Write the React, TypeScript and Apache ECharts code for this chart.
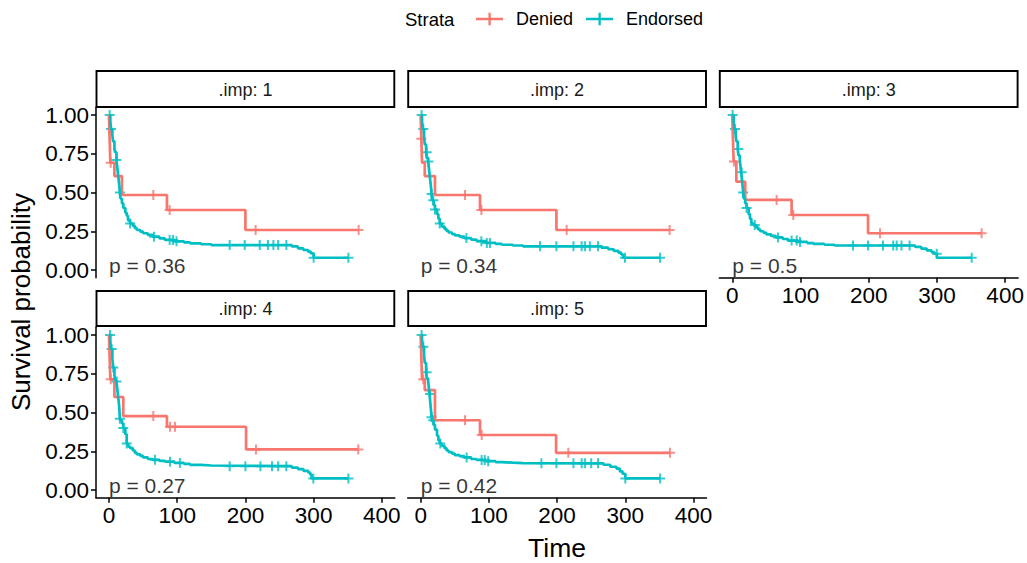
import React, { useEffect, useRef } from "react";
import * as echarts from "echarts";

// ---------- data ----------
const panelLabels = [".imp: 1", ".imp: 2", ".imp: 3", ".imp: 4", ".imp: 5"];
const pValueLabels = ["p = 0.36", "p = 0.34", "p = 0.5", "p = 0.27", "p = 0.42"];
const strataNames = ["Denied", "Endorsed"];
const xTicks = [0, 100, 200, 300, 400];
const yTicks = [0, 0.25, 0.5, 0.75, 1];

// imp 1
const denied1Time = [0, 1, 2, 8, 19, 85, 200];
const denied1Surv = [1, 0.846, 0.692, 0.606, 0.484, 0.387, 0.258];
const denied1Censor = [2.5, 65, 89, 215, 366];
const endorsed1Time = [0, 2, 3, 5, 6, 8, 9, 11, 12, 13, 14, 15, 16, 17, 19, 21, 24, 26, 28, 31, 35, 38, 41, 46, 50, 57, 64, 74, 82, 96, 110, 119, 135, 150, 268, 277, 285, 292, 296, 300];
const endorsed1Surv = [1, 0.96, 0.91, 0.87, 0.83, 0.78, 0.76, 0.71, 0.67, 0.63, 0.59, 0.55, 0.5, 0.46, 0.43, 0.4, 0.37, 0.35, 0.32, 0.3, 0.285, 0.27, 0.258, 0.248, 0.237, 0.226, 0.215, 0.204, 0.194, 0.185, 0.178, 0.172, 0.166, 0.161, 0.152, 0.14, 0.129, 0.118, 0.107, 0.079];
const endorsed1Censor = [1, 3, 11, 16, 31, 66, 89, 94, 99, 177, 199, 221, 233, 241, 248, 260, 300, 351];

// imp 2
const denied2Time = [0, 1, 2, 6, 21, 87, 199];
const denied2Surv = [1, 0.846, 0.692, 0.606, 0.484, 0.387, 0.258];
const denied2Censor = [1, 65, 89, 214, 365];
const endorsed2Time = [0, 2, 3, 5, 6, 8, 9, 11, 12, 13, 14, 15, 16, 17, 19, 21, 24, 26, 28, 31, 35, 38, 41, 46, 50, 57, 64, 74, 82, 96, 110, 119, 135, 150, 265, 275, 283, 290, 294, 297];
const endorsed2Surv = [1, 0.96, 0.91, 0.86, 0.81, 0.76, 0.72, 0.7, 0.66, 0.62, 0.58, 0.54, 0.49, 0.45, 0.42, 0.39, 0.36, 0.33, 0.3, 0.28, 0.265, 0.252, 0.242, 0.232, 0.224, 0.215, 0.206, 0.196, 0.186, 0.175, 0.168, 0.163, 0.158, 0.153, 0.144, 0.134, 0.123, 0.112, 0.1, 0.079];
const endorsed2Censor = [1.4, 3.9, 8.8, 11.2, 16, 18.5, 21, 28, 67, 89, 97, 101.6, 175, 199, 224, 236, 241, 248, 260, 299.5, 351];

// imp 3
const denied3Time = [0, 1, 2, 6, 19, 87, 199];
const denied3Surv = [1, 0.846, 0.7, 0.57, 0.452, 0.355, 0.237];
const denied3Censor = [2.5, 65, 89.5, 216.6, 365.6];
const endorsed3Time = [0, 2, 3, 5, 6, 8, 9, 11, 12, 13, 14, 15, 16, 17, 19, 21, 24, 26, 28, 31, 35, 38, 41, 46, 50, 57, 64, 74, 82, 96, 110, 119, 135, 150, 268, 277, 285, 292, 296, 300];
const endorsed3Surv = [1, 0.96, 0.91, 0.87, 0.83, 0.78, 0.74, 0.71, 0.67, 0.63, 0.59, 0.55, 0.5, 0.46, 0.43, 0.4, 0.36, 0.33, 0.3, 0.29, 0.275, 0.262, 0.25, 0.24, 0.23, 0.22, 0.21, 0.2, 0.19, 0.181, 0.174, 0.168, 0.163, 0.158, 0.149, 0.138, 0.127, 0.116, 0.105, 0.079];
const endorsed3Censor = [0.5, 3.9, 8.8, 13.7, 16, 21, 33, 67, 87, 94.5, 99.3, 177, 199, 221, 236, 241, 248, 260, 299.7, 351];

// imp 4
const denied4Time = [0, 1, 2, 8, 21, 85, 201];
const denied4Surv = [1, 0.857, 0.714, 0.6, 0.477, 0.408, 0.262];
const denied4Censor = [2.5, 65, 89.4, 96.8, 215.5, 365.5];
const endorsed4Time = [0, 2, 3, 5, 6, 8, 9, 11, 12, 13, 14, 15, 16, 17, 19, 21, 24, 26, 28, 31, 35, 38, 41, 46, 50, 57, 64, 74, 82, 96, 110, 119, 135, 150, 268, 277, 285, 292, 295, 297];
const endorsed4Surv = [1, 0.96, 0.91, 0.85, 0.79, 0.74, 0.71, 0.7, 0.66, 0.62, 0.58, 0.54, 0.46, 0.45, 0.43, 0.4, 0.36, 0.3, 0.28, 0.27, 0.255, 0.24, 0.23, 0.22, 0.21, 0.2, 0.195, 0.188, 0.183, 0.175, 0.168, 0.162, 0.158, 0.154, 0.145, 0.135, 0.124, 0.113, 0.1, 0.075];
const endorsed4Censor = [1.5, 3.9, 6.3, 11.2, 16, 21, 26, 67.4, 89.4, 104, 177, 200, 222, 239, 248, 260, 299.6, 351];

// imp 5
const denied5Time = [0, 1, 2, 6, 21, 87, 198.5];
const denied5Surv = [1, 0.857, 0.714, 0.645, 0.45, 0.355, 0.24];
const denied5Censor = [3.8, 65, 89.5, 216.4, 365.5];
const endorsed5Time = [0, 2, 3, 5, 6, 8, 9, 11, 12, 13, 14, 15, 16, 17, 19, 21, 24, 26, 28, 31, 35, 38, 41, 46, 50, 57, 64, 74, 82, 96, 110, 119, 135, 150, 268, 278, 287, 292, 296, 300];
const endorsed5Surv = [1, 0.97, 0.925, 0.87, 0.82, 0.76, 0.72, 0.7, 0.66, 0.62, 0.57, 0.52, 0.47, 0.45, 0.42, 0.39, 0.35, 0.32, 0.3, 0.285, 0.27, 0.255, 0.245, 0.235, 0.225, 0.218, 0.21, 0.2, 0.194, 0.186, 0.18, 0.176, 0.174, 0.172, 0.163, 0.15, 0.138, 0.12, 0.105, 0.075];
const endorsed5Censor = [1.4, 3.9, 8.8, 13.7, 16, 18.5, 28.8, 67.4, 89.4, 94, 99, 177, 199, 224, 236, 241, 250, 260, 300, 351];

// ---------- styling ----------
const RED = "#F8766D";
const TEAL = "#00BFC4";
const FONT = "'Liberation Sans', Arial, Helvetica, sans-serif";
const PLUS = "path://M0,4h10v2h-10z M4,0h2v10h-2z";
const LEGEND_ICON = "path://M0,5.3h28v2.6h-28z M12.9,0h2.4v13.2h-2.4z";

const COL_LEFT = [96, 407.7, 719.3];
const COL_WIDTH = 298.8;
const ROW_TOP = [107.25, 327.25];
const ROW_HEIGHT = 170.5;
const STRIP_TOP = [71, 291];
const STRIP_H = [36, 35];

type Panel = {
  dT: number[]; dS: number[]; dC: number[];
  eT: number[]; eS: number[]; eC: number[];
};

const panels: Panel[] = [
  { dT: denied1Time, dS: denied1Surv, dC: denied1Censor, eT: endorsed1Time, eS: endorsed1Surv, eC: endorsed1Censor },
  { dT: denied2Time, dS: denied2Surv, dC: denied2Censor, eT: endorsed2Time, eS: endorsed2Surv, eC: endorsed2Censor },
  { dT: denied3Time, dS: denied3Surv, dC: denied3Censor, eT: endorsed3Time, eS: endorsed3Surv, eC: endorsed3Censor },
  { dT: denied4Time, dS: denied4Surv, dC: denied4Censor, eT: endorsed4Time, eS: endorsed4Surv, eC: endorsed4Censor },
  { dT: denied5Time, dS: denied5Surv, dC: denied5Censor, eT: endorsed5Time, eS: endorsed5Surv, eC: endorsed5Censor },
];

function stepPoints(times: number[], surv: number[], censors: number[]) {
  const pts = times.map((t, i) => [t, surv[i]]);
  const lastC = Math.max(...censors);
  if (lastC > times[times.length - 1]) pts.push([lastC, surv[surv.length - 1]]);
  return pts;
}

function survAt(times: number[], surv: number[], t: number) {
  let s = surv[0];
  for (let i = 0; i < times.length; i++) {
    if (times[i] <= t) s = surv[i];
  }
  return s;
}

function buildOption() {
  const grids: any[] = [];
  const xAxes: any[] = [];
  const yAxes: any[] = [];
  const series: any[] = [];
  const graphics: any[] = [];

  panels.forEach((p, i) => {
    const row = i < 3 ? 0 : 1;
    const col = i % 3;
    const showX = i >= 2;
    const showY = col === 0;
    grids.push({ left: COL_LEFT[col], top: ROW_TOP[row], width: COL_WIDTH, height: ROW_HEIGHT, containLabel: false });
    xAxes.push({
      gridIndex: i, type: "value", min: -19, max: 419,
      axisLine: { show: showX, onZero: false, lineStyle: { color: "#000", width: 1.5 } },
      axisTick: { show: showX, length: 5, customValues: xTicks, lineStyle: { color: "#000", width: 1.5 } },
      axisLabel: { show: showX, customValues: xTicks, fontSize: 22.5, color: "#000", margin: 6, fontFamily: FONT },
      splitLine: { show: false },
    });
    yAxes.push({
      gridIndex: i, type: "value", min: -0.05, max: 1.05,
      axisLine: { show: showY, onZero: false, lineStyle: { color: "#000", width: 1.5 } },
      axisTick: { show: showY, length: 5, customValues: yTicks, lineStyle: { color: "#000", width: 1.5 } },
      axisLabel: { show: showY, customValues: yTicks, fontSize: 22.5, color: "#000", margin: 7, fontFamily: FONT, formatter: (v: number) => v.toFixed(2) },
      splitLine: { show: false },
    });

    const groups = [
      { name: strataNames[0], color: RED, t: p.dT, s: p.dS, c: p.dC },
      { name: strataNames[1], color: TEAL, t: p.eT, s: p.eS, c: p.eC },
    ];
    groups.forEach((g) => {
      series.push({
        type: "line", name: g.name, xAxisIndex: i, yAxisIndex: i, step: "end",
        data: stepPoints(g.t, g.s, g.c), showSymbol: false, symbol: "none",
        color: g.color, lineStyle: { color: g.color, width: 2.7 }, silent: true,
      });
    });
    groups.forEach((g) => {
      series.push({
        type: "scatter", name: g.name, xAxisIndex: i, yAxisIndex: i,
        data: g.c.map((t) => [t, survAt(g.t, g.s, t)]),
        symbol: PLUS, symbolSize: 10, color: g.color, itemStyle: { color: g.color }, silent: true,
      });
    });
    series.push({
      type: "scatter", name: "pval" + i, xAxisIndex: i, yAxisIndex: i,
      data: [[0, 0.03]], symbol: "circle", symbolSize: 0.1,
      itemStyle: { color: "rgba(0,0,0,0)" }, silent: true,
      label: { show: true, position: "right", distance: 0, formatter: pValueLabels[i], fontSize: 21, color: "#000", fontFamily: FONT },
    });

    // strip
    graphics.push({
      type: "rect", silent: true,
      shape: { x: COL_LEFT[col] + 0.5, y: STRIP_TOP[row], width: COL_WIDTH - 1, height: STRIP_H[row] },
      style: { fill: "#fff", stroke: "#000", lineWidth: 1.9 },
    });
    graphics.push({
      type: "text", silent: true,
      x: COL_LEFT[col] + COL_WIDTH / 2, y: STRIP_TOP[row] + STRIP_H[row] / 2 + 0.5,
      style: { text: panelLabels[i], fontSize: 18, fill: "#1A1A1A", align: "center", verticalAlign: "middle", fontFamily: FONT },
    });
  });

  graphics.push({
    type: "text", silent: true, x: 21, y: 302, rotation: Math.PI / 2,
    style: { text: "Survival probability", fontSize: 26, fill: "#000", align: "center", verticalAlign: "middle", fontFamily: FONT },
  });
  graphics.push({
    type: "text", silent: true, x: 557, y: 548,
    style: { text: "Time", fontSize: 26.5, fill: "#000", align: "center", verticalAlign: "middle", fontFamily: FONT },
  });
  graphics.push({
    type: "text", silent: true, x: 405, y: 19,
    style: { text: "Strata", fontSize: 18.5, fill: "#000", align: "left", verticalAlign: "middle", fontFamily: FONT },
  });

  return {
    animation: false,
    backgroundColor: "#fff",
    textStyle: { fontFamily: FONT },
    grid: grids,
    xAxis: xAxes,
    yAxis: yAxes,
    legend: {
      left: 471, top: 5, itemWidth: 27, itemHeight: 13, itemGap: 13,
      data: [
        { name: strataNames[0], icon: LEGEND_ICON },
        { name: strataNames[1], icon: LEGEND_ICON },
      ],
      textStyle: { fontSize: 18, color: "#000", fontFamily: FONT, padding: [0, 0, 0, 8] },
      selectedMode: false,
    },
    series,
    graphic: graphics,
  };
}

export default function App() {
  const ref = useRef<HTMLDivElement>(null);
  useEffect(() => {
    if (!ref.current) return;
    const chart = echarts.init(ref.current, undefined, { renderer: "svg" });
    chart.setOption(buildOption() as any);
    return () => chart.dispose();
  }, []);
  return (
    <div
      ref={ref}
      style={{ position: "absolute", left: 0, top: 0, width: 1027, height: 563, background: "#fff" }}
    />
  );
}
